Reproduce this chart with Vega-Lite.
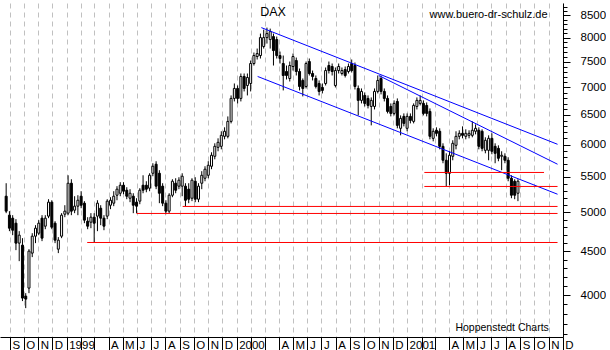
{
  "$schema": "https://vega.github.io/schema/vega-lite/v6.json",
  "width": 563,
  "height": 334,
  "padding": 0,
  "background": "white",
  "config": {"view": {"stroke": null}, "font": "Liberation Sans"},
  "datasets": {
    "candles": [
      {"d":"1998-08-24","o":5220,"h":5406,"l":4987,"c":5014},
      {"d":"1998-08-31","o":4960,"h":5014,"l":4751,"c":4789},
      {"d":"1998-09-07","o":4920,"h":4960,"l":4700,"c":4763},
      {"d":"1998-09-14","o":4854,"h":4907,"l":4514,"c":4600},
      {"d":"1998-09-21","o":4600,"h":4751,"l":4382,"c":4700},
      {"d":"1998-09-28","o":4575,"h":4662,"l":3935,"c":3967},
      {"d":"1998-10-05","o":3988,"h":4020,"l":3861,"c":3956},
      {"d":"1998-10-12","o":4075,"h":4526,"l":4020,"c":4502},
      {"d":"1998-10-19","o":4478,"h":4725,"l":4430,"c":4687},
      {"d":"1998-10-26","o":4687,"h":4828,"l":4600,"c":4789},
      {"d":"1998-11-02","o":4725,"h":4894,"l":4700,"c":4854},
      {"d":"1998-11-09","o":4920,"h":4960,"l":4625,"c":4662},
      {"d":"1998-11-16","o":4815,"h":4960,"l":4776,"c":4920},
      {"d":"1998-11-23","o":4947,"h":5178,"l":4920,"c":5137},
      {"d":"1998-11-30","o":5137,"h":5164,"l":4776,"c":4802},
      {"d":"1998-12-07","o":4854,"h":4880,"l":4600,"c":4637},
      {"d":"1998-12-14","o":4526,"h":4675,"l":4478,"c":4637},
      {"d":"1998-12-21","o":4687,"h":4987,"l":4662,"c":4960},
      {"d":"1998-12-28","o":4973,"h":5095,"l":4933,"c":5014},
      {"d":"1999-01-04","o":4987,"h":5523,"l":4960,"c":5406},
      {"d":"1999-01-11","o":5406,"h":5464,"l":4960,"c":5014},
      {"d":"1999-01-18","o":5027,"h":5220,"l":4987,"c":5082},
      {"d":"1999-01-25","o":5082,"h":5234,"l":4960,"c":5164},
      {"d":"1999-02-01","o":5220,"h":5291,"l":5054,"c":5095},
      {"d":"1999-02-08","o":5123,"h":5151,"l":4854,"c":4894},
      {"d":"1999-02-15","o":4880,"h":4933,"l":4776,"c":4815},
      {"d":"1999-02-22","o":4867,"h":4987,"l":4789,"c":4933},
      {"d":"1999-03-01","o":4933,"h":4987,"l":4612,"c":4854},
      {"d":"1999-03-08","o":4947,"h":5164,"l":4751,"c":5123},
      {"d":"1999-03-15","o":5054,"h":5095,"l":4828,"c":4920},
      {"d":"1999-03-22","o":4920,"h":4960,"l":4763,"c":4815},
      {"d":"1999-03-29","o":4947,"h":5178,"l":4907,"c":5151},
      {"d":"1999-04-05","o":5095,"h":5206,"l":5041,"c":5164},
      {"d":"1999-04-12","o":5123,"h":5291,"l":5082,"c":5220},
      {"d":"1999-04-19","o":5234,"h":5363,"l":5164,"c":5320},
      {"d":"1999-04-26","o":5262,"h":5421,"l":5220,"c":5377},
      {"d":"1999-05-03","o":5377,"h":5421,"l":5248,"c":5291},
      {"d":"1999-05-10","o":5305,"h":5348,"l":5178,"c":5220},
      {"d":"1999-05-17","o":5192,"h":5320,"l":5137,"c":5262},
      {"d":"1999-05-24","o":5220,"h":5262,"l":4987,"c":5095},
      {"d":"1999-05-31","o":5137,"h":5192,"l":4987,"c":5082},
      {"d":"1999-06-07","o":5151,"h":5334,"l":5109,"c":5305},
      {"d":"1999-06-14","o":5377,"h":5523,"l":5262,"c":5305},
      {"d":"1999-06-21","o":5377,"h":5435,"l":5276,"c":5320},
      {"d":"1999-06-28","o":5334,"h":5553,"l":5291,"c":5523},
      {"d":"1999-07-05","o":5553,"h":5705,"l":5509,"c":5659},
      {"d":"1999-07-12","o":5690,"h":5736,"l":5320,"c":5363},
      {"d":"1999-07-19","o":5553,"h":5599,"l":5123,"c":5262},
      {"d":"1999-07-26","o":5363,"h":5406,"l":5082,"c":5123},
      {"d":"1999-08-02","o":5123,"h":5164,"l":4973,"c":5014},
      {"d":"1999-08-09","o":5014,"h":5262,"l":4987,"c":5234},
      {"d":"1999-08-16","o":5234,"h":5464,"l":5206,"c":5435},
      {"d":"1999-08-23","o":5406,"h":5479,"l":5262,"c":5305},
      {"d":"1999-08-30","o":5363,"h":5494,"l":5320,"c":5450},
      {"d":"1999-09-06","o":5363,"h":5553,"l":5220,"c":5509},
      {"d":"1999-09-13","o":5363,"h":5406,"l":5082,"c":5164},
      {"d":"1999-09-20","o":5320,"h":5406,"l":5123,"c":5178},
      {"d":"1999-09-27","o":5192,"h":5479,"l":5151,"c":5450},
      {"d":"1999-10-04","o":5435,"h":5494,"l":5137,"c":5178},
      {"d":"1999-10-11","o":5178,"h":5406,"l":5137,"c":5363},
      {"d":"1999-10-18","o":5406,"h":5584,"l":5320,"c":5523},
      {"d":"1999-10-25","o":5479,"h":5659,"l":5435,"c":5614},
      {"d":"1999-11-01","o":5523,"h":5736,"l":5479,"c":5674},
      {"d":"1999-11-08","o":5659,"h":5876,"l":5614,"c":5829},
      {"d":"1999-11-15","o":5813,"h":6020,"l":5766,"c":5971},
      {"d":"1999-11-22","o":5955,"h":6101,"l":5892,"c":6036},
      {"d":"1999-11-29","o":5971,"h":6218,"l":5923,"c":6151},
      {"d":"1999-12-06","o":6134,"h":6285,"l":6085,"c":6218},
      {"d":"1999-12-13","o":6134,"h":6472,"l":6101,"c":6386},
      {"d":"1999-12-20","o":6386,"h":6849,"l":6352,"c":6794},
      {"d":"1999-12-27","o":6794,"h":7073,"l":6739,"c":6979},
      {"d":"2000-01-03","o":6979,"h":7035,"l":6703,"c":6794},
      {"d":"2000-01-10","o":6794,"h":7266,"l":6739,"c":7208},
      {"d":"2000-01-17","o":7208,"h":7266,"l":6923,"c":6979},
      {"d":"2000-01-24","o":7035,"h":7266,"l":6849,"c":7188},
      {"d":"2000-01-31","o":7073,"h":7524,"l":6923,"c":7464},
      {"d":"2000-02-07","o":7464,"h":7688,"l":7424,"c":7626},
      {"d":"2000-02-14","o":7606,"h":7771,"l":7545,"c":7667},
      {"d":"2000-02-21","o":7626,"h":8091,"l":7565,"c":8004},
      {"d":"2000-02-28","o":7813,"h":8178,"l":7771,"c":8004},
      {"d":"2000-03-06","o":8004,"h":8222,"l":7876,"c":8091},
      {"d":"2000-03-13","o":7962,"h":8200,"l":7771,"c":8134},
      {"d":"2000-03-20","o":8026,"h":8091,"l":7424,"c":7729},
      {"d":"2000-03-27","o":7962,"h":8026,"l":7565,"c":7626},
      {"d":"2000-04-03","o":7626,"h":7708,"l":7464,"c":7565},
      {"d":"2000-04-10","o":7464,"h":7626,"l":6942,"c":7227},
      {"d":"2000-04-17","o":7305,"h":7424,"l":7150,"c":7227},
      {"d":"2000-04-24","o":7169,"h":7504,"l":7111,"c":7424},
      {"d":"2000-05-01","o":7404,"h":7667,"l":7324,"c":7606},
      {"d":"2000-05-08","o":7524,"h":7585,"l":7227,"c":7305},
      {"d":"2000-05-15","o":7305,"h":7364,"l":6942,"c":7016},
      {"d":"2000-05-22","o":7131,"h":7169,"l":6831,"c":6979},
      {"d":"2000-05-29","o":7016,"h":7504,"l":6979,"c":7464},
      {"d":"2000-06-05","o":7504,"h":7565,"l":7227,"c":7266},
      {"d":"2000-06-12","o":7266,"h":7324,"l":7131,"c":7208},
      {"d":"2000-06-19","o":7169,"h":7227,"l":6979,"c":7016},
      {"d":"2000-06-26","o":7073,"h":7131,"l":6849,"c":6923},
      {"d":"2000-07-03","o":6998,"h":7073,"l":6886,"c":6942},
      {"d":"2000-07-10","o":7073,"h":7384,"l":7035,"c":7324},
      {"d":"2000-07-17","o":7424,"h":7504,"l":7266,"c":7324},
      {"d":"2000-07-24","o":7404,"h":7464,"l":7227,"c":7305},
      {"d":"2000-07-31","o":7035,"h":7384,"l":6998,"c":7324},
      {"d":"2000-08-07","o":7324,"h":7464,"l":7266,"c":7404},
      {"d":"2000-08-14","o":7266,"h":7384,"l":7227,"c":7324},
      {"d":"2000-08-21","o":7344,"h":7404,"l":7188,"c":7227},
      {"d":"2000-08-28","o":7305,"h":7464,"l":7266,"c":7404},
      {"d":"2000-09-04","o":7464,"h":7545,"l":7285,"c":7324},
      {"d":"2000-09-11","o":7424,"h":7484,"l":6960,"c":7016},
      {"d":"2000-09-18","o":6979,"h":7035,"l":6490,"c":6758},
      {"d":"2000-09-25","o":6758,"h":6979,"l":6703,"c":6923},
      {"d":"2000-10-02","o":6849,"h":6905,"l":6649,"c":6703},
      {"d":"2000-10-09","o":6794,"h":6849,"l":6613,"c":6667},
      {"d":"2000-10-16","o":6649,"h":6812,"l":6318,"c":6758},
      {"d":"2000-10-23","o":6649,"h":6979,"l":6595,"c":6923},
      {"d":"2000-10-30","o":6923,"h":7227,"l":6886,"c":7131},
      {"d":"2000-11-06","o":7169,"h":7227,"l":6868,"c":6923},
      {"d":"2000-11-13","o":6923,"h":6979,"l":6739,"c":6794},
      {"d":"2000-11-20","o":6794,"h":6849,"l":6525,"c":6560},
      {"d":"2000-11-27","o":6649,"h":6703,"l":6473,"c":6525},
      {"d":"2000-12-04","o":6525,"h":6758,"l":6490,"c":6703},
      {"d":"2000-12-11","o":6739,"h":6794,"l":6268,"c":6318},
      {"d":"2000-12-18","o":6268,"h":6490,"l":6151,"c":6438},
      {"d":"2000-12-25","o":6473,"h":6525,"l":6301,"c":6352},
      {"d":"2001-01-01","o":6268,"h":6525,"l":6218,"c":6473},
      {"d":"2001-01-08","o":6473,"h":6525,"l":6352,"c":6403},
      {"d":"2001-01-15","o":6386,"h":6703,"l":6352,"c":6667},
      {"d":"2001-01-22","o":6649,"h":6812,"l":6595,"c":6758},
      {"d":"2001-01-29","o":6703,"h":6849,"l":6667,"c":6758},
      {"d":"2001-02-05","o":6703,"h":6758,"l":6490,"c":6525},
      {"d":"2001-02-12","o":6667,"h":6721,"l":6473,"c":6525},
      {"d":"2001-02-19","o":6560,"h":6613,"l":6085,"c":6134},
      {"d":"2001-02-26","o":6101,"h":6268,"l":6052,"c":6218},
      {"d":"2001-03-05","o":6235,"h":6285,"l":6134,"c":6184},
      {"d":"2001-03-12","o":6218,"h":6268,"l":5923,"c":5971},
      {"d":"2001-03-19","o":5971,"h":6020,"l":5705,"c":5751},
      {"d":"2001-03-26","o":5751,"h":5860,"l":5363,"c":5553},
      {"d":"2001-04-02","o":5553,"h":5892,"l":5377,"c":5829},
      {"d":"2001-04-09","o":5813,"h":6069,"l":5751,"c":6020},
      {"d":"2001-04-16","o":5987,"h":6218,"l":5923,"c":6134},
      {"d":"2001-04-23","o":6134,"h":6235,"l":6085,"c":6184},
      {"d":"2001-04-30","o":6184,"h":6301,"l":6101,"c":6151},
      {"d":"2001-05-07","o":6134,"h":6251,"l":6085,"c":6184},
      {"d":"2001-05-14","o":6151,"h":6235,"l":6101,"c":6184},
      {"d":"2001-05-21","o":6151,"h":6386,"l":6118,"c":6235},
      {"d":"2001-05-28","o":6218,"h":6335,"l":6167,"c":6268},
      {"d":"2001-06-04","o":6235,"h":6285,"l":5923,"c":5971},
      {"d":"2001-06-11","o":6218,"h":6251,"l":5892,"c":5939},
      {"d":"2001-06-18","o":5907,"h":6118,"l":5860,"c":6069},
      {"d":"2001-06-25","o":5907,"h":6151,"l":5751,"c":6101},
      {"d":"2001-07-02","o":6101,"h":6184,"l":5845,"c":5892},
      {"d":"2001-07-09","o":5971,"h":6020,"l":5705,"c":5860},
      {"d":"2001-07-16","o":5939,"h":5987,"l":5736,"c":5782},
      {"d":"2001-07-23","o":5813,"h":5892,"l":5599,"c":5829},
      {"d":"2001-07-30","o":5813,"h":5860,"l":5705,"c":5751},
      {"d":"2001-08-06","o":5751,"h":5798,"l":5435,"c":5479},
      {"d":"2001-08-13","o":5479,"h":5523,"l":5192,"c":5234},
      {"d":"2001-08-20","o":5435,"h":5464,"l":5178,"c":5234},
      {"d":"2001-08-27","o":5262,"h":5464,"l":5151,"c":5435}
    ],
    "blue": [
      {"d":"2000-02-23","v":8222,"d2":"2001-11-20","v2":6004},
      {"d":"2000-11-01","v":7227,"d2":"2001-11-20","v2":5690},
      {"d":"2000-02-15","v":7208,"d2":"2001-11-20","v2":5248}
    ],
    "red": [
      {"d":"2001-02-07","v":5565,"d2":"2001-10-22","v2":5565},
      {"d":"2001-02-07","v":5359,"d2":"2001-11-20","v2":5359},
      {"d":"1999-09-07","v":5078,"d2":"2001-11-20","v2":5078},
      {"d":"1999-05-31","v":4983,"d2":"2001-11-20","v2":4983},
      {"d":"1999-02-14","v":4608,"d2":"2001-11-20","v2":4608}
    ],
    "notes": [
      {"d":"2000-03-19","v":8566,"t":"DAX"}
    ],
    "url": [
      {"d":"2001-06-25","v":8497,"t":"www.buero-dr-schulz.de"}
    ],
    "source": [
      {"d":"2001-07-24","v":3659,"t":"Hoppenstedt Charts"}
    ]
  },
  "encoding": {
    "x": {
      "field": "d", "type": "temporal",
      "scale": {"type": "utc", "nice": false, "domain": [{"year":1998,"month":8,"date":21,"hours":12,"utc":true},{"year":2001,"month":11,"date":21,"utc":true}]},
      "axis": {
        "title": null,
        "tickCount": {"interval": "month", "step": 1},
        "grid": true, "gridColor": "#c0c0c0", "gridDash": [5, 4], "gridWidth": 1,
        "domainColor": "black", "domainWidth": 1,
        "tickColor": "black", "tickSize": 16, "tickWidth": 1,
        "labelExpr": "utcmonth(datum.value) == 0 ? utcFormat(datum.value, '%Y') : (utcmonth(datum.value) < 3 ? '' : substring('JFMAMJJASOND', utcmonth(datum.value), utcmonth(datum.value) + 1))",
        "labelAlign": "left", "labelBaseline": "top", "labelPadding": -14, "labelOffset": 2,
        "labelFont": "Liberation Sans", "labelFontSize": 11.5, "labelColor": "black",
        "labelOverlap": false, "labelFlush": false, "labelBound": false
      }
    }
  },
  "layer": [
    {
      "data": {"name": "candles"},
      "mark": {"type": "rule", "color": "black", "strokeWidth": 1},
      "encoding": {
        "y": {
          "field": "l", "type": "quantitative",
          "scale": {"type": "log", "domain": [3572, 8786], "nice": false},
          "axis": {
            "title": null, "orient": "right", "grid": false,
            "values": [3600,3700,3800,3900,4000,4100,4200,4300,4400,4500,4600,4700,4800,4900,5000,5100,5200,5300,5400,5500,5600,5700,5800,5900,6000,6100,6200,6300,6400,6500,6600,6700,6800,6900,7000,7100,7200,7300,7400,7500,7600,7700,7800,7900,8000,8100,8200,8300,8400,8500,8600,8700],
            "format": "d",
            "labelExpr": "datum.value % 500 === 0 ? datum.label : ''",
            "domainColor": "black", "tickColor": "black",
            "tickSize": {"condition": {"test": "datum.value % 500 === 0", "value": 7}, "value": 4},
            "labelPadding": 10, "labelFont": "Liberation Sans", "labelFontSize": 11.5, "labelColor": "black",
            "labelOverlap": false, "labelFlush": false, "labelBound": false, "labelBaseline": "middle"
          }
        },
        "y2": {"field": "h"}
      }
    },
    {
      "data": {"name": "candles"},
      "mark": {"type": "bar", "size": 2, "stroke": "black", "strokeWidth": 1},
      "encoding": {
        "y": {"field": "o", "type": "quantitative", "axis": {"title": null}},
        "y2": {"field": "c"},
        "fill": {"condition": {"test": "datum.c < datum.o", "value": "black"}, "value": "white"}
      }
    },
    {
      "data": {"name": "blue"},
      "mark": {"type": "rule", "color": "#0000ff", "strokeWidth": 1},
      "encoding": {
        "x2": {"field": "d2"},
        "y": {"field": "v", "type": "quantitative", "axis": {"title": null}},
        "y2": {"field": "v2"}
      }
    },
    {
      "data": {"name": "red"},
      "mark": {"type": "rule", "color": "#ff0000", "strokeWidth": 1},
      "encoding": {
        "x2": {"field": "d2"},
        "y": {"field": "v", "type": "quantitative", "axis": {"title": null}},
        "y2": {"field": "v2"}
      }
    },
    {
      "data": {"name": "notes"},
      "mark": {"type": "text", "font": "Liberation Sans", "fontSize": 12.5, "color": "black", "align": "center", "baseline": "middle"},
      "encoding": {
        "y": {"field": "v", "type": "quantitative", "axis": {"title": null}},
        "text": {"field": "t"}
      }
    },
    {
      "data": {"name": "url"},
      "mark": {"type": "text", "font": "Liberation Sans", "fontSize": 11, "color": "black", "align": "center", "baseline": "middle"},
      "encoding": {
        "y": {"field": "v", "type": "quantitative", "axis": {"title": null}},
        "text": {"field": "t"}
      }
    },
    {
      "data": {"name": "source"},
      "mark": {"type": "text", "font": "Liberation Sans", "fontSize": 10.5, "color": "black", "align": "center", "baseline": "middle"},
      "encoding": {
        "y": {"field": "v", "type": "quantitative", "axis": {"title": null}},
        "text": {"field": "t"}
      }
    }
  ]
}
